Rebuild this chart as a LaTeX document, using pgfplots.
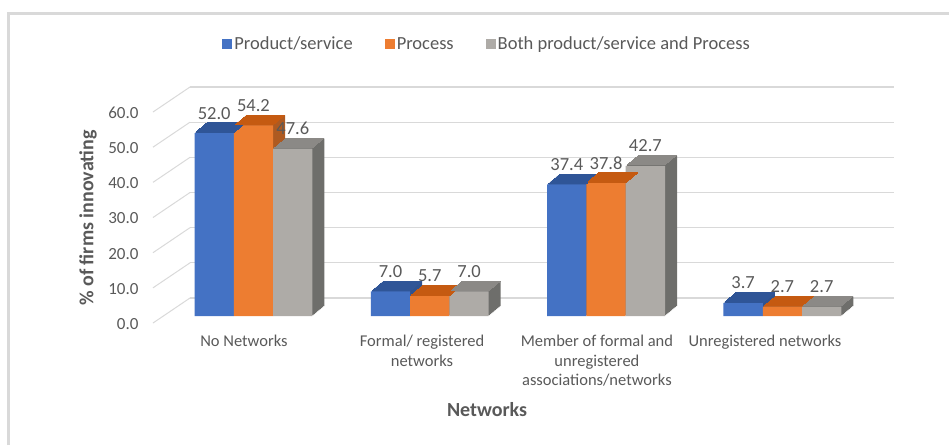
\documentclass[border=0pt]{standalone}
\usepackage{fontspec}
\setmainfont{Carlito}
\usepackage{pgfplots}
\pgfplotsset{compat=1.18}
\usepackage{pgfplotstable}
\definecolor{cblue}{HTML}{4472C4}
\definecolor{cbluetop}{HTML}{2F5597}
\definecolor{cblueside}{HTML}{2F528F}
\definecolor{corange}{HTML}{ED7D31}
\definecolor{corangetop}{HTML}{C55A11}
\definecolor{corangeside}{HTML}{AE5A21}
\definecolor{cgrey}{HTML}{AEABA7}
\definecolor{cgreytop}{HTML}{8B8986}
\definecolor{cgreyside}{HTML}{6E6E6B}
\definecolor{gridc}{HTML}{D9D9D9}
\definecolor{txt}{HTML}{595959}

\pgfplotstableread{
x a b c
0 52.0 54.2 47.6
1 7.0 5.7 7.0
2 37.4 37.8 42.7
3 3.7 2.7 2.7
}\data

\newcommand{\threed}[5]{%
 \pgfplotsinvokeforeach{1,...,10}{%
  \addplot[ybar, bar width=39.3pt, bar shift=#2, fill=#5, draw=none, forget plot, xshift={##1*1.2pt}, yshift={##1*1pt-18pt}] table[x=x,y=#1]{\data};
 }%
 \pgfplotsinvokeforeach{1,...,10}{%
  \addplot[only marks, mark=-, mark size=19.65pt, mark options={draw=#4, line width=1.3pt}, forget plot, xshift={#2+##1*1.2pt}, yshift={##1*1pt-18pt}] table[x=x,y=#1]{\data};
 }%
 \addplot[ybar, bar width=39.3pt, bar shift=#2, fill=#3, draw=none, yshift=-18pt, legend image code/.code={\fill[#3, yshift=18pt] (0pt,-5pt) rectangle (10pt,5pt);}] table[x=x,y=#1]{\data};
}
\newcommand{\lbl}[2]{%
 \addplot[ybar, bar width=39.3pt, bar shift=0pt, draw=none, fill=none, forget plot, xshift=#2, yshift=-18pt,
   nodes near coords, nodes near coords style={anchor=center, yshift=20pt, font=\fontsize{18.5}{22}\selectfont, text=txt}] table[x=x,y=#1]{\data};
}

\begin{document}
\begin{tikzpicture}
\path[use as bounding box] (0pt,0pt) rectangle (949pt,445pt);
\begin{axis}[
  at={(190pt,147pt)}, anchor=south west,
  scale only axis, width=704pt, height=211pt,
  xmin=-0.36, xmax=3.633, ymin=0, ymax=60,
  clip=false,
  axis line style={draw=none}, tick style={draw=none},
  ymajorgrids, major grid style={color=gridc, line width=1.3pt},
  ytick={0,10,...,60},
  yticklabel style={anchor=east, xshift=-48pt, yshift=-26pt, font=\fontsize{17}{20}\selectfont, text=txt},
  /pgf/number format/.cd, fixed, fixed zerofill, precision=1, assume math mode=true, /pgfplots/.cd,
  xtick={-0.054,0.956,1.948,2.901},
  xticklabels={No Networks, {Formal/ registered\\networks}, {Member of formal and\\unregistered\\associations/networks}, Unregistered networks},
  xticklabel style={align=center, anchor=north, yshift=-34pt, font=\fontsize{16.5}{19.5}\selectfont, text=txt},
  ylabel={\% of firms innovating},
  ylabel style={at={(axis description cs:-0.145,0.379)}, anchor=center, font=\bfseries\fontsize{20}{24}\selectfont, text=txt},
  xlabel={Networks},
  xlabel style={at={(axis description cs:0.422,-0.531)}, anchor=center, font=\bfseries\fontsize{20}{24}\selectfont, text=txt},
  legend columns=3,
  legend style={draw=none, fill=none, at={(axis description cs:0.422,1.204)}, anchor=center, font=\fontsize{18.5}{22}\selectfont, text=txt, /tikz/every even column/.append style={column sep=30pt}},
]
\pgfplotsinvokeforeach{0,10,...,60}{\draw[color=gridc, line width=1pt] (axis cs:-0.36,#1) -- ++(-37pt,-25pt);}
\threed{a}{-39.3pt}{cblue}{cbluetop}{cblueside}
\addlegendentry{Product/service}
\threed{b}{0pt}{corange}{corangetop}{corangeside}
\addlegendentry{Process}
\threed{c}{39.3pt}{cgrey}{cgreytop}{cgreyside}
\addlegendentry{Both product/service and Process}
\lbl{a}{-39.3pt}
\lbl{b}{0pt}
\lbl{c}{39.3pt}
\end{axis}
\draw[color=gridc, line width=3pt] (8pt,0pt) -- (8pt,431.5pt) -- (949pt,431.5pt);
\end{tikzpicture}
\end{document}
